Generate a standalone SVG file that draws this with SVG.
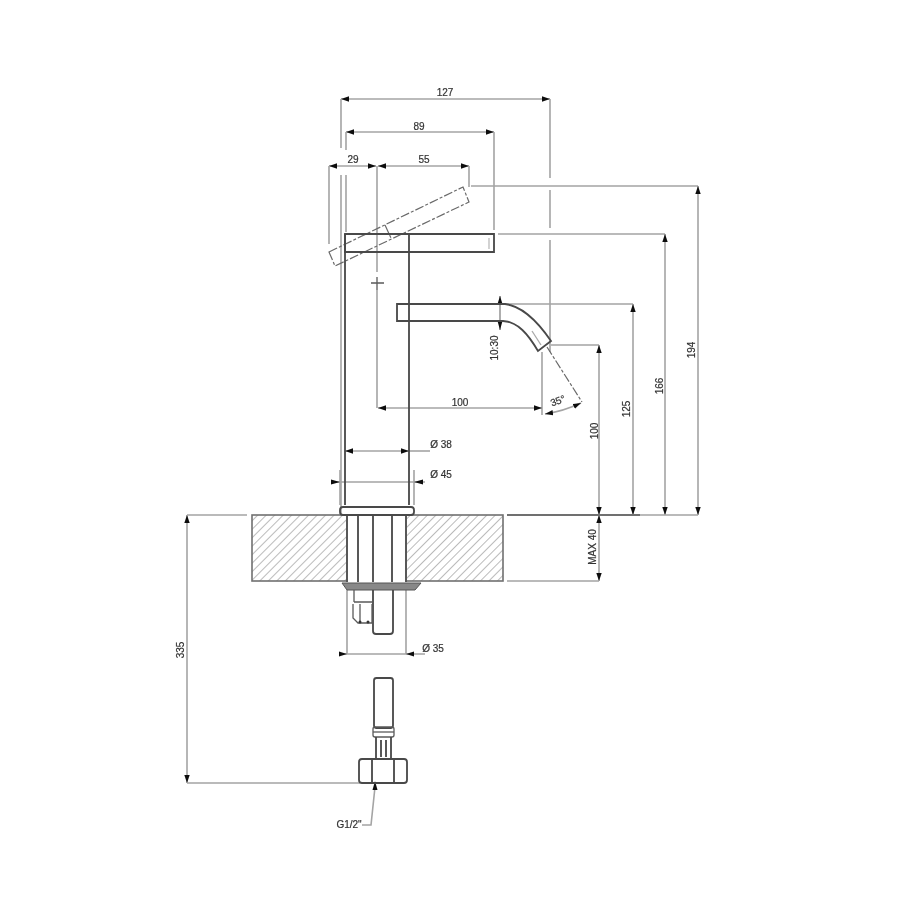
<svg xmlns="http://www.w3.org/2000/svg" width="900" height="900" viewBox="0 0 900 900">
<style>
.o{fill:none;stroke:#484848;stroke-width:1.8}
.t{fill:none;stroke:#5a5a5a;stroke-width:1.3}
.d{fill:none;stroke:#a4a4a4;stroke-width:1.6}
.a{marker-start:url(#ar);marker-end:url(#ar)}
.dash{fill:none;stroke:#6a6a6a;stroke-width:1.2;stroke-dasharray:9 2 3 2}
text{font-family:"Liberation Sans",Arial,sans-serif;font-size:10px;fill:#333;text-anchor:middle;stroke:#333;stroke-width:.2}
</style>
<defs>
<marker id="ar" markerUnits="userSpaceOnUse" markerWidth="8" markerHeight="6" refX="8" refY="3" orient="auto-start-reverse"><path d="M8 3L0 .3V5.700Z" fill="#111"/></marker>
<pattern id="h" patternUnits="userSpaceOnUse" width="6" height="6" patternTransform="rotate(45)"><rect width="6" height="6" fill="#fff"/><line x1="0" y1="0" x2="0" y2="6" stroke="#b4b4b4" stroke-width="1.800"/></pattern>
<filter id="b" x="0" y="0" width="1" height="1"><feGaussianBlur stdDeviation="0.7"/></filter>
</defs>
<rect width="900" height="900" fill="#fff"/>
<g filter="url(#b)">
<rect width="900" height="900" fill="#fff"/>
<g id="connectors">
<path class="d a" d="M341 99H550"/>
<path class="d a" d="M346 132H494"/>
<path class="d a" d="M329 166H376"/>
<path class="d a" d="M378 166H469"/>
<path class="d" d="M341 99V148M341 175V515M346 132V150M346 175V232M329 166V244M550 99V178M550 190V228M550 240V352M494 132V230M377 166V272M377 290V408M469 166V187"/>
<path class="d" d="M471 186H698M498 234H665M505 304H633M551 345H599"/>
<path class="d a" d="M698 186V515"/>
<path class="d a" d="M665 234V515"/>
<path class="d a" d="M633 304V515"/>
<path class="d a" d="M599 345V515"/>
<path class="d a" d="M599 515V581"/>
<path class="d a" d="M187 515V783"/>
<path class="d" d="M187 515H247M507 581H599M187 783H360M542 352V415M640 515H698"/>
<path class="o" d="M507 515H640" style="stroke:#707070"/>
<path class="d a" d="M378 408H542"/>
<path class="dash" d="M547 347L582 402"/>
<path class="d a" d="M545 414Q564 411 581 403"/>
<path class="o" d="M500 296V330" style="stroke:#777;stroke-width:1.200"/>
<path d="M497.500 304H502.500L500 296ZM497.500 321H502.500L500 330Z" fill="#111"/>
<path class="d a" d="M345 451H409"/>
<path class="d" d="M409 451H430"/>
<path class="d" d="M331 482H425M340 470V505M414 470V505M347 590V654M406 590V654M341 654H425"/>
<path d="M340 482L331 479.500V484.500ZM414 482L423 479.500V484.500ZM347 654L339 651.500V656.500ZM406 654L414 651.500V656.500Z" fill="#111"/>
<path class="d" d="M375 787L371 825H362"/>
<path d="M375 781L372.500 790H377.500Z" fill="#111"/>
</g>
<g id="countertop">
<rect x="252" y="515" width="251" height="66" fill="url(#h)" stroke="#707070" stroke-width="1.600"/>
<rect x="346" y="514" width="61" height="68" fill="#fff"/>
</g>
<g id="handle-open">
<path class="dash" d="M329 252L463 187L469 202L335 266Z"/>
<path class="dash" d="M385 225L391 238"/>
</g>
<g id="lever">
<path class="o" d="M345 234H494V252H345Z"/>
<path class="t" d="M489 238V249" style="stroke:#bbb"/>
<path class="o" d="M409 234V252"/>
</g>
<g id="body">
<path class="o" d="M345 234V505M409 252V505"/>
<path class="t" d="M371 283H384M377 277V290"/>
</g>
<g id="spout">
<path class="o" d="M397 304H505C522 306 538 322 551 341L538 351C528 334 518 322 503 321H397Z"/>
<path class="t" d="M532 331L541 345" style="stroke:#aaa"/>
</g>
<g id="base">
<rect x="340" y="507" width="74" height="8" rx="3" fill="#fff" class="o"/>
<path class="o" d="M347 516V582M406 516V582M358 516V582"/>
<path class="o" d="M373 516V582M392 516V582"/>
<path d="M342 583H421L415 590H347Z" fill="#888" stroke="#555"/>
</g>
<g id="shank">
<path class="o" d="M373 590V631Q373 634 376 634H390Q393 634 393 631V590"/>
<path class="t" d="M354 590V602M354 602H373M353 604V618L358 623H372V604M360 604V622"/>
<circle cx="360" cy="622" r="1.500" fill="#333"/>
<circle cx="368" cy="622" r="1.500" fill="#333"/>
</g>
<g id="fitting">
<rect x="374" y="678" width="19" height="50" rx="2.500" fill="#fff" class="o"/>
<rect x="373" y="727" width="21" height="10" rx="2" fill="#fff" class="t"/>
<path class="t" d="M373 732H394"/>
<path class="o" d="M376 737V758M391 737V758M381 740V757M386 740V757"/>
<rect x="359" y="759" width="48" height="24" rx="3" fill="#fff" class="o"/>
<path class="o" d="M372 759V783M394 759V783"/>
</g>
<g id="labels">
<text x="445" y="96">127</text>
<text x="419" y="130">89</text>
<text x="353" y="163">29</text>
<text x="424" y="163">55</text>
<text x="460" y="406">100</text>
<text transform="translate(559 404) rotate(-20)">35°</text>
<text transform="translate(498 348) rotate(-90)">10:30</text>
<text transform="translate(598 431) rotate(-90)">100</text>
<text transform="translate(630 409) rotate(-90)">125</text>
<text transform="translate(663 386) rotate(-90)">166</text>
<text transform="translate(695 350) rotate(-90)">194</text>
<text transform="translate(596 547) rotate(-90)">MAX 40</text>
<text transform="translate(184 650) rotate(-90)">335</text>
<text x="441" y="448">Ø 38</text>
<text x="441" y="478">Ø 45</text>
<text x="433" y="652">Ø 35</text>
<text x="349" y="828">G1/2"</text>
</g>
</g>
</svg>
